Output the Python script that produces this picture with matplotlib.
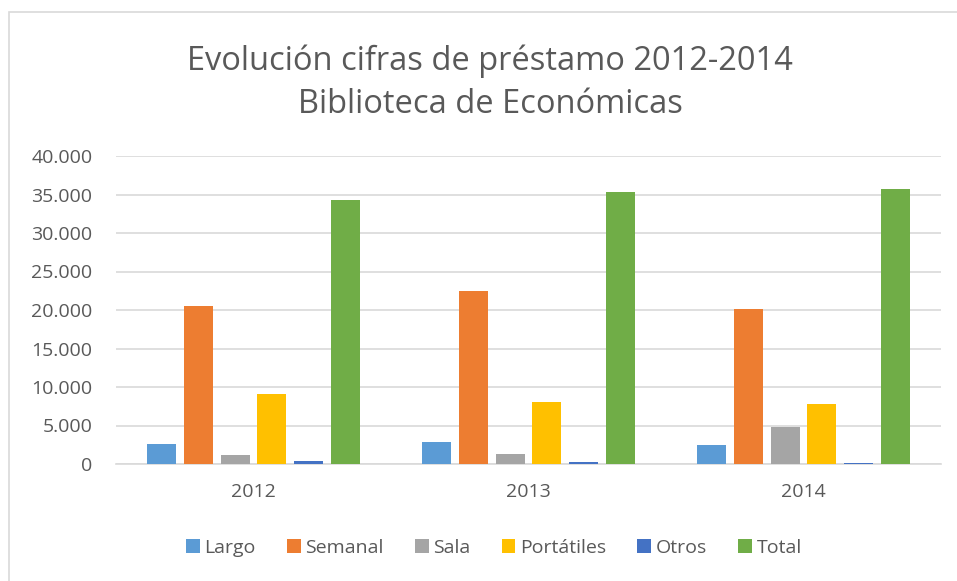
import numpy as np
import matplotlib
matplotlib.use('Agg')
import matplotlib.pyplot as plt
from matplotlib.patches import Rectangle

# Datos
anios = ['2012', '2013', '2014']
series = ['Largo', 'Semanal', 'Sala', 'Portátiles', 'Otros', 'Total']
largo = [2600, 2860, 2510]
semanal = [20520, 22420, 20090]
sala = [1170, 1255, 4850]
portatiles = [9050, 8050, 7790]
otros = [390, 300, 170]
total = [34240, 35370, 35670]
colores = ['#5B9BD5', '#ED7D31', '#A5A5A5', '#FFC000', '#4472C4', '#70AD47']

valores = [largo, semanal, sala, portatiles, otros, total]

plt.rcParams['font.family'] = ['Open Sans', 'DejaVu Sans']
gris_texto = '#595959'

fig = plt.figure(figsize=(9.57, 5.81), dpi=100)
ax = fig.add_axes([116 / 957, 1 - 464 / 581, (941 - 116) / 957, (464 - 156) / 581])

# borde del área del gráfico
fig.patches.append(Rectangle((9 / 957, -0.05), 1.0, 1 - 12 / 581 + 0.05,
                             transform=fig.transFigure, fill=False,
                             edgecolor='#d9d9d9', linewidth=1.2))

x = np.arange(len(anios))
ancho = 0.105
paso = 0.1335
for i, (nombre, vals) in enumerate(zip(series, valores)):
    offset = (i - 2.5) * paso
    ax.bar(x + offset, vals, ancho, color=colores[i], label=nombre, zorder=3)

ax.set_xlim(-0.5, 2.5)
ax.set_ylim(0, 40000)
ax.set_yticks(np.arange(0, 40001, 5000))
ax.set_yticklabels(['0' if v == 0 else f'{v:,}'.replace(',', '.') for v in range(0, 40001, 5000)])
ax.set_xticks(x)
ax.set_xticklabels(anios)
ax.grid(axis='y', color='#d9d9d9', linewidth=1.2, zorder=0)
for s in ['top', 'right', 'left']:
    ax.spines[s].set_visible(False)
ax.spines['bottom'].set_color('#d9d9d9')
ax.spines['bottom'].set_linewidth(1.2)
ax.tick_params(axis='both', length=0, labelsize=14, colors=gris_texto)
ax.tick_params(axis='y', pad=17)
ax.tick_params(axis='x', pad=14)

fig.text(0.512, 1 - 83 / 581, 'Evolución cifras de préstamo 2012-2014\nBiblioteca de Económicas',
         ha='center', va='center', fontsize=23.5, color=gris_texto, linespacing=1.42)

fig.legend(*ax.get_legend_handles_labels(), loc='center',
           bbox_to_anchor=(494 / 957, 1 - 548 / 581), ncol=6, frameon=False,
           fontsize=14, labelcolor=gris_texto, handlelength=0.7, handleheight=0.7,
           handletextpad=0.25, columnspacing=1.6)

fig.savefig('out.png', dpi=100)
